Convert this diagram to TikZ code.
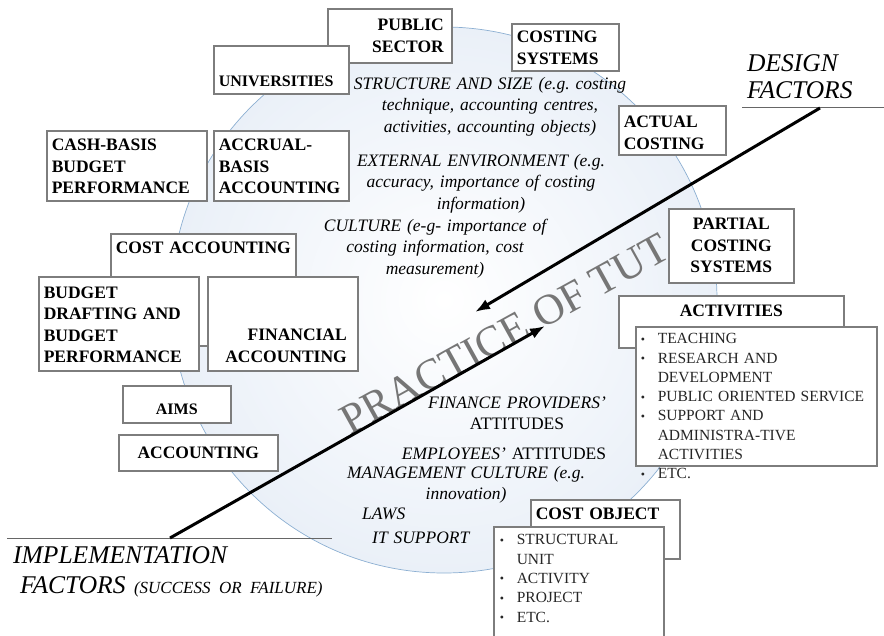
\documentclass[tikz,border=0pt]{standalone}
\usepackage{fontspec}
\setmainfont{Liberation Serif}
\usetikzlibrary{arrows.meta,shadows}
\frenchspacing
\definecolor{boxgray}{RGB}{125,125,125}
\definecolor{ringblue}{RGB}{140,175,210}
\definecolor{ringfill}{RGB}{234,240,248}
\definecolor{tutgray}{RGB}{118,118,118}
\newcommand\litem{\makebox[17pt][l]{\raisebox{0.5pt}{\fontsize{12}{12}\selectfont\textbullet}}}
\newcommand\lgap{\hspace*{17pt}}
\tikzset{
  box/.style={draw=boxgray, line width=1.6pt, fill=white, anchor=north west,
    inner xsep=5pt, inner ysep=4pt, align=left,
    font=\bfseries\fontsize{17.5}{21.5}\selectfont,
    drop shadow={shadow xshift=1.5pt, shadow yshift=-1.5pt, opacity=0.35, fill=black!60}},
  listbox/.style={box, font=\fontsize{15.5}{19.3}\selectfont, text=black!85},
  factor/.style={font=\itshape\fontsize{17.5}{21.5}\selectfont, align=center,
    text width=300pt, anchor=north, inner sep=0pt, text height=12pt},
  heading/.style={font=\itshape\fontsize{25.5}{27}\selectfont, align=left,
    text width=200pt, anchor=north west, inner sep=0pt, text height=16pt},
}
\begin{document}
\begin{tikzpicture}[x=1pt, y=-1pt, >={Latex[length=15pt,width=11pt]}]
\useasboundingbox (0,0) rectangle (884,636);
% background ring
\shade[inner color=white, outer color=ringfill] (444,300) circle (273);
\draw[ringblue, line width=0.7pt] (444,300) circle (273);
% design factors
\node[factor] (struct) at (490,77) {STRUCTURE AND SIZE (e.g. costing\\technique, accounting centres,\\activities, accounting objects)};
\node[factor] (extenv) at (481,154) {EXTERNAL ENVIRONMENT (e.g.\\accuracy, importance of costing\\information)};
\node[factor] (cult) at (435,219) {CULTURE (e-g- importance of\\costing information, cost\\measurement)};
% implementation factors
\node[factor] (finprov) at (517,396) {FINANCE PROVIDERS’\\{\upshape ATTITUDES}};
\node[factor] (employ) at (504,447) {EMPLOYEES’ {\upshape ATTITUDES}};
\node[factor] (mgmt) at (466,466) {MANAGEMENT CULTURE (e.g.\\innovation)\hspace*{28pt}};
\node[factor, align=left, text width=120pt, anchor=north west] (laws) at (362,507) {LAWS};
\node[factor, align=left, text width=120pt, anchor=north west] (itsup) at (372,531) {IT SUPPORT};
% headings
\node[heading] (design) at (747,55) {DESIGN\\FACTORS};
\node[heading, text width=330pt, font=\itshape\fontsize{25.5}{30}\selectfont] (impl) at (13,547) {IMPLEMENTATION\\\hspace*{7pt}FACTORS {\fontsize{17}{20}\selectfont (SUCCESS OR FAILURE)}};
\coordinate (dlL) at (742,108);
\coordinate (dlR) at (884,108);
\coordinate (ilL) at (7,538);
\coordinate (ilR) at (332,538);
\draw[black!60, line width=1pt] (dlL) -- (dlR);
\draw[black!60, line width=1pt] (ilL) -- (ilR);
% watermark
\node[rotate=29, font=\fontsize{43}{43}\selectfont, text=tutgray, inner sep=0pt,
  text height=28pt, text depth=0pt] (tut) at (505,334) {PRACTICE OF TUT};
% arrows
\coordinate (dfA) at (820,108);
\coordinate (dfB) at (475,312);
\coordinate (ifA) at (170,538);
\coordinate (ifB) at (545,326);
\draw[->, line width=3pt] (dfA) -- (dfB);
\draw[->, line width=3pt] (ifA) -- (ifB);
% boxes, top
\node[box, align=right, inner xsep=8pt, text width=108pt, text height=18pt, text depth=28pt] (pub) at (327,8) {PUBLIC\\SECTOR};
\node[box, text width=97pt, text height=15pt, text depth=24pt] (costsys) at (511,23) {COSTING\\SYSTEMS};
\node[box, font=\bfseries\fontsize{16}{21}\selectfont, text width=125pt, text height=37pt, text depth=3pt] (univ) at (213,45) {UNIVERSITIES};
\node[box, text width=97pt, text height=18pt, text depth=23pt] (actual) at (618,105) {ACTUAL\\COSTING};
\node[box, text width=150pt, text height=16pt, text depth=46pt] (cash) at (46,130) {CASH-BASIS\\BUDGET\\PERFORMANCE};
\node[box, text width=125pt, text height=16pt, text depth=46pt] (accr) at (213,130) {ACCRUAL-\\BASIS\\ACCOUNTING};
% boxes, left
\node[box, align=center, inner xsep=1pt, text width=183pt, text height=16pt, text depth=88pt] (costacc) at (110,233) {COST ACCOUNTING};
\node[box, text width=150pt, text height=17.5pt, text depth=68.5pt] (budget) at (38,276) {BUDGET\\DRAFTING AND\\BUDGET\\PERFORMANCE};
\node[box, align=right, inner xsep=11pt, text width=128pt, text height=60pt, text depth=26pt] (fin) at (207,276) {FINANCIAL\\ACCOUNTING};
\node[box, align=center, font=\bfseries\fontsize{16}{21}\selectfont, text width=98pt, text height=25pt, text depth=4pt] (aims) at (122,385) {AIMS};
\node[box, align=center, text width=149pt, text height=19.5pt, text depth=8.5pt] (acc) at (118,434) {ACCOUNTING};
% boxes, right
\node[box, align=center, text width=115pt, text height=17pt, text depth=49pt] (partial) at (668,208) {PARTIAL\\COSTING\\SYSTEMS};
\node[box, align=center, text width=215pt, text height=17pt, text depth=27pt] (activ) at (618,295) {ACTIVITIES};
\node[listbox, text width=231pt, text height=13pt, text depth=118pt] (actlist) at (635,326) {\litem TEACHING\\\litem RESEARCH AND\\\lgap DEVELOPMENT\\\litem PUBLIC ORIENTED SERVICE\\\litem SUPPORT AND\\\lgap ADMINISTRA-TIVE\\\lgap ACTIVITIES\\\litem ETC.};
\node[box, text width=139pt, text height=16pt, text depth=35pt] (costobj) at (530,499) {COST OBJECT};
\node[listbox, inner xsep=6pt, text width=158pt, text height=14pt, text depth=98pt] (objlist) at (493,526) {\litem STRUCTURAL\\\lgap UNIT\\\litem ACTIVITY\\\litem PROJECT\\\litem ETC.};
\end{tikzpicture}
\end{document}
